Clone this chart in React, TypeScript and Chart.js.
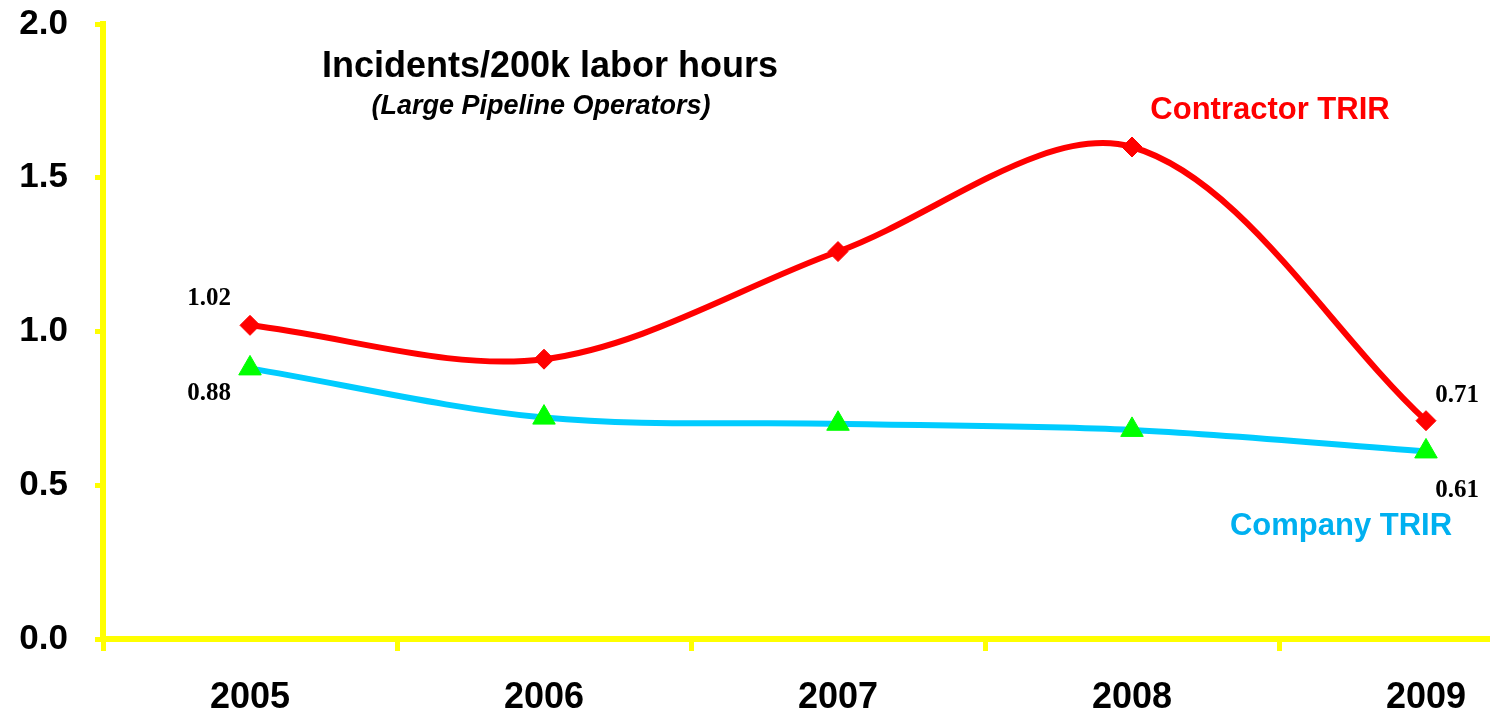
import React, { useEffect, useRef } from "react";
import { Chart, registerables } from "chart.js";

Chart.register(...registerables);

const years = ["2005", "2006", "2007", "2008", "2009"];
const contractorTRIR = [1.02, 0.91, 1.26, 1.6, 0.71];
const companyTRIR = [0.88, 0.72, 0.7, 0.68, 0.61];
const yMin = 0;
const yMax = 2.0;
const yStep = 0.5;
const titleText = "Incidents/200k labor hours";
const subtitleText = "(Large Pipeline Operators)";
const contractorLabel = "Contractor TRIR";
const companyLabel = "Company TRIR";

const RED = "#FF0000";
const BLUE_LINE = "#00CCFF";
const BLUE_TEXT = "#00B0F0";
const GREEN = "#00FF00";
const YELLOW = "#FFFF00";
const SANS = "'Liberation Sans', Arial, sans-serif";
const SERIF = "'Liberation Serif', 'Times New Roman', serif";

const annotationPlugin = {
  id: "annotations",
  afterDatasetsDraw(chart: any) {
    const ctx = chart.ctx;
    ctx.save();
    ctx.textAlign = "center";
    ctx.textBaseline = "middle";
    ctx.fillStyle = "#000";
    ctx.font = `bold 36px ${SANS}`;
    ctx.fillText(titleText, 550, 67);
    ctx.font = `italic bold 27px ${SANS}`;
    ctx.fillText(subtitleText, 541, 107);

    ctx.fillStyle = RED;
    ctx.font = `bold 31px ${SANS}`;
    ctx.fillText(contractorLabel, 1270, 110);
    ctx.fillStyle = BLUE_TEXT;
    ctx.fillText(companyLabel, 1341, 526);

    // value labels on first and last points
    ctx.fillStyle = "#000";
    ctx.font = `bold 25px ${SERIF}`;
    const cMeta = chart.getDatasetMeta(1);
    const bMeta = chart.getDatasetMeta(0);
    const last = years.length - 1;
    const c0 = cMeta.data[0], cL = cMeta.data[last];
    const b0 = bMeta.data[0], bL = bMeta.data[last];
    ctx.fillText(contractorTRIR[0].toFixed(2), c0.x - 41, c0.y - 27);
    ctx.fillText(contractorTRIR[last].toFixed(2), cL.x + 31, cL.y - 25);
    ctx.fillText(companyTRIR[0].toFixed(2), b0.x - 41, b0.y + 25);
    ctx.fillText(companyTRIR[last].toFixed(2), bL.x + 31, bL.y + 39);
    ctx.restore();
  },
};

export default function App() {
  const ref = useRef<HTMLCanvasElement | null>(null);

  useEffect(() => {
    if (!ref.current) return;
    const chart = new Chart(ref.current, {
      type: "line",
      data: {
        labels: years,
        datasets: [
          {
            label: companyLabel,
            data: companyTRIR,
            borderColor: BLUE_LINE,
            borderWidth: 6,
            tension: 0.33,
            pointStyle: "triangle",
            pointRadius: 13,
            pointBackgroundColor: GREEN,
            pointBorderColor: GREEN,
            pointBorderWidth: 1,
            fill: false,
          },
          {
            label: contractorLabel,
            data: contractorTRIR,
            borderColor: RED,
            borderWidth: 6,
            tension: 0.33,
            pointStyle: "rectRot",
            pointRadius: 10,
            pointBackgroundColor: RED,
            pointBorderColor: RED,
            pointBorderWidth: 1,
            fill: false,
          },
        ],
      },
      options: {
        responsive: false,
        animation: false,
        layout: { padding: { top: 24, right: 27, left: 0, bottom: 0 } },
        plugins: {
          legend: { display: false },
          tooltip: { enabled: false },
          title: { display: false },
        },
        scales: {
          x: {
            type: "category",
            offset: true,
            afterFit: (s: any) => {
              s.height = 76;
              s.paddingLeft = 0;
              s.paddingRight = 0;
            },
            grid: {
              offset: true,
              drawOnChartArea: false,
              drawTicks: true,
              tickLength: 12,
              lineWidth: 5,
              color: YELLOW,
            },
            border: { display: true, color: YELLOW, width: 6 },
            ticks: {
              color: "#000",
              font: { family: SANS, size: 36, weight: "bold" },
              padding: 25,
              maxRotation: 0,
            },
          },
          y: {
            min: yMin,
            max: yMax,
            afterFit: (s: any) => {
              s.width = 103;
              s.paddingTop = 0;
              s.paddingBottom = 0;
            },
            grid: {
              drawOnChartArea: false,
              drawTicks: true,
              tickLength: 8,
              lineWidth: 5,
              color: YELLOW,
            },
            border: { display: true, color: YELLOW, width: 6 },
            ticks: {
              stepSize: yStep,
              color: "#000",
              font: { family: SANS, size: 35, weight: "bold" },
              padding: 27,
              callback: (v: any) => Number(v).toFixed(1),
            },
          },
        },
      },
      plugins: [annotationPlugin],
    });
    return () => chart.destroy();
  }, []);

  return (
    <div
      style={{
        position: "fixed",
        left: 0,
        top: 0,
        width: 1490,
        height: 715,
        overflow: "hidden",
        background: "#fff",
      }}
    >
      <canvas ref={ref} width={1600} height={715} style={{ width: 1600, height: 715, display: "block" }} />
    </div>
  );
}
